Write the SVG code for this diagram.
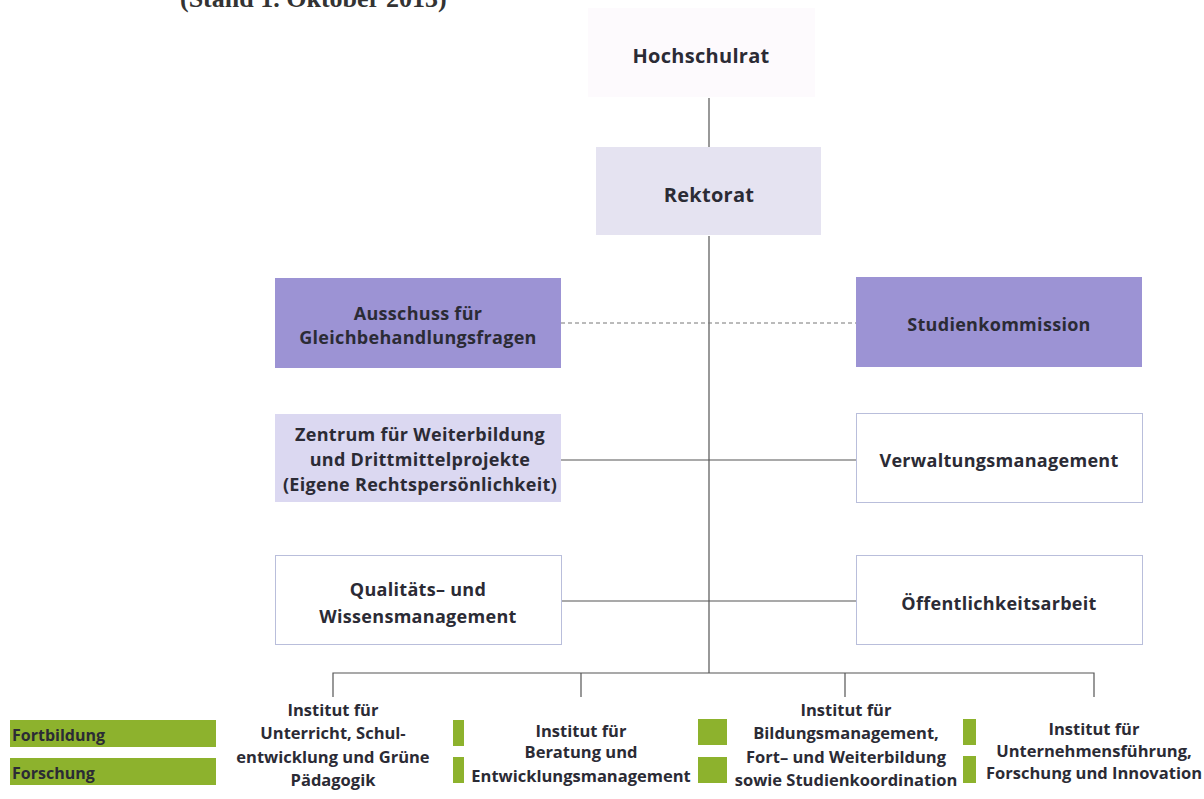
<svg xmlns="http://www.w3.org/2000/svg" width="1204" height="799" viewBox="0 0 1204 799">
<style>
text{font-family:"Open Sans","DejaVu Sans",sans-serif;font-weight:700;fill:#2b2b35;text-anchor:middle}
.h{font-size:20px;letter-spacing:0.3px}
.t{font-size:18px;letter-spacing:0.3px}
.s{font-size:16.5px}
.lg{font-size:16px;text-anchor:start}
.ti{font-family:"Liberation Serif",serif;font-size:26px;text-anchor:start;fill:#333}
.pur{fill:#9c93d4}
.wb{fill:#fff;stroke:#b9bedb;stroke-width:1}
.gr{fill:#8db22d}
.ln{stroke:#555;stroke-width:1.2;fill:none}
</style>
<rect width="1204" height="799" fill="#fff"/>
<text class="ti" x="180" y="7">(Stand 1. Oktober 2013)</text>
<g id="connectors">
<path class="ln" d="M709 98V148M709 236V673M561 460H856M561 601H856M333 697V673H1094V697M581 673V697M845 673V697"/>
<path d="M561 323H856" stroke="#777" stroke-width="1" stroke-dasharray="4 3" fill="none"/>
</g>
<g id="hochschulrat"><rect x="588" y="8" width="227" height="89" fill="#fdfafd"/><text class="h" x="701" y="63">Hochschulrat</text></g>
<g id="rektorat"><rect x="596" y="147" width="225" height="88" fill="#e5e3f1"/><text class="h" x="709" y="202">Rektorat</text></g>
<g id="ausschuss"><rect class="pur" x="275" y="278" width="286" height="90"/><text class="t" x="418" y="320">Ausschuss für</text><text class="t" x="418" y="344">Gleichbehandlungsfragen</text></g>
<g id="studienkommission"><rect class="pur" x="856" y="277" width="286" height="90"/><text class="t" x="999" y="331">Studienkommission</text></g>
<g id="zentrum"><rect x="275" y="414" width="286" height="88" fill="#dbd8f1"/><text class="t" x="420" y="441">Zentrum für Weiterbildung</text><text class="t" x="420" y="466">und Drittmittelprojekte</text><text class="t" x="420" y="491">(Eigene Rechtspersönlichkeit)</text></g>
<g id="verwaltung"><rect class="wb" x="856.5" y="413.5" width="286" height="89"/><text class="t" x="999" y="467">Verwaltungsmanagement</text></g>
<g id="qualitaet"><rect class="wb" x="275.5" y="555.5" width="286" height="89"/><text class="t" x="418" y="596">Qualitäts– und</text><text class="t" x="418" y="623">Wissensmanagement</text></g>
<g id="oeffentlichkeit"><rect class="wb" x="856.5" y="555.5" width="286" height="89"/><text class="t" x="999" y="610">Öffentlichkeitsarbeit</text></g>
<g id="legend"><rect class="gr" x="10" y="720" width="206" height="27"/><text class="lg" x="12" y="741">Fortbildung</text><rect class="gr" x="10" y="758" width="206" height="27"/><text class="lg" x="12" y="779">Forschung</text></g>
<g id="marks"><rect class="gr" x="453" y="720" width="11" height="26"/><rect class="gr" x="453" y="757" width="11" height="26"/><rect class="gr" x="698" y="719" width="29" height="26"/><rect class="gr" x="698" y="757" width="29" height="26"/><rect class="gr" x="963" y="719" width="13" height="26"/><rect class="gr" x="963" y="756" width="13" height="27"/></g>
<g id="inst1"><text class="s" x="333" y="716">Institut für</text><text class="s" x="333" y="739">Unterricht, Schul-</text><text class="s" x="333" y="763">entwicklung und Grüne</text><text class="s" x="333" y="786">Pädagogik</text></g>
<g id="inst2"><text class="s" x="581" y="737">Institut für</text><text class="s" x="581" y="758">Beratung und</text><text class="s" x="581" y="782">Entwicklungsmanagement</text></g>
<g id="inst3"><text class="s" x="846" y="716">Institut für</text><text class="s" x="846" y="739">Bildungsmanagement,</text><text class="s" x="846" y="763">Fort– und Weiterbildung</text><text class="s" x="846" y="786">sowie Studienkoordination</text></g>
<g id="inst4"><text class="s" x="1094" y="735">Institut für</text><text class="s" x="1094" y="757">Unternehmensführung,</text><text class="s" x="1094" y="779">Forschung und Innovation</text></g>
</svg>
